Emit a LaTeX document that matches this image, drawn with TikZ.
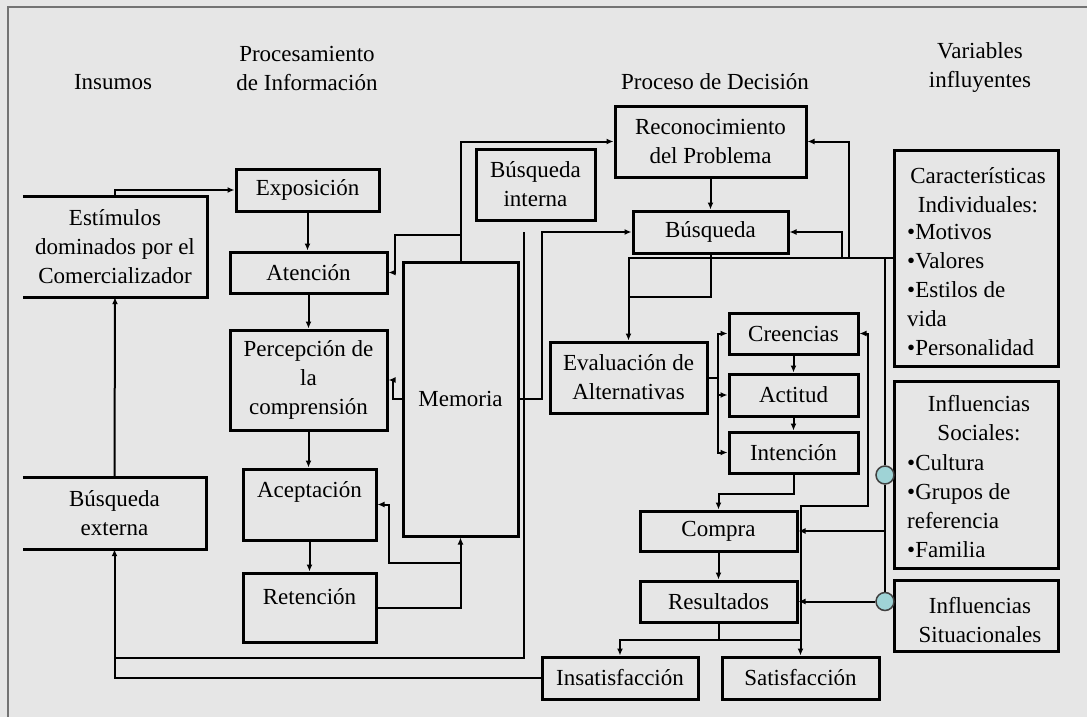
\documentclass[tikz,border=0pt]{standalone}
\usepackage{fontspec}
\setmainfont{Liberation Serif}
\usetikzlibrary{arrows.meta}
\definecolor{bg}{HTML}{E6E6E6}
\definecolor{circfill}{HTML}{9FD3D6}
\begin{document}
\begin{tikzpicture}[x=1pt,y=-1pt,
  font=\fontsize{23pt}{29pt}\selectfont,
  box/.style={draw=black, line width=3pt, inner sep=0pt, align=center},
  openbox/.style={inner sep=0pt, align=center},
  lbl/.style={inner sep=0pt, align=center},
  conn/.style={line width=2pt, line join=miter},
  arr/.style={conn, -{Latex[length=7pt,width=6pt]}},
  circ/.style={circle, draw=black!75, line width=1.5pt, fill=circfill, minimum size=18pt, inner sep=0pt}]

\fill[bg] (0,0) rectangle (1087,717);
\useasboundingbox (0,0) rectangle (1087,717);
\draw[black!55, line width=1.2pt] (8,717) -- (8,7) -- (1087,7);

% headers
\node[lbl] (hIns) at (113,82) {Insumos};
\node[lbl] (hProc) at (307,68) {Procesamiento\\de Información};
\node[lbl] (hDec) at (715,82) {Proceso de Decisión};
\node[lbl] (hVar) at (980,68) {Variables\\influyentes};

% left column
\node[openbox, minimum width=184pt, minimum height=100pt] (estim) at (115,247) {Estímulos\\dominados por el\\Comercializador};
\draw[line width=3pt] (estim.north west) -- (estim.north east) -- (estim.south east) -- (estim.south west);
\node[openbox, minimum width=183pt, minimum height=71pt] (bext) at (114.5,513.5) {Búsqueda\\externa};
\draw[line width=3pt] (bext.north west) -- (bext.north east) -- (bext.south east) -- (bext.south west);

% information processing
\node[box, minimum width=143pt, minimum height=42pt] (expo) at (307.5,190) {Exposición};
\node[box, minimum width=157pt, minimum height=41pt] (aten) at (308.5,272.5) {Atención};
\node[box, minimum width=157pt, minimum height=100pt] (perc) at (308.5,380) {Percepción de\\la\\comprensión};
\node[box, minimum width=133pt, minimum height=71pt] (acep) at (309.5,504.5) {};
\node[lbl] (acepL) at (309.5,492) {Aceptación};
\node[box, minimum width=133pt, minimum height=69pt] (ret) at (309.5,607.5) {};
\node[lbl] (retL) at (309.5,597) {Retención};
\node[box, minimum width=115pt, minimum height=274pt] (mem) at (460.5,399) {Memoria};

% decision process
\node[box, minimum width=119pt, minimum height=71pt] (bint) at (535.5,184.5) {Búsqueda\\interna};
\node[box, minimum width=191pt, minimum height=71pt] (recon) at (710.5,141.5) {Reconocimiento\\del Problema};
\node[box, minimum width=155pt, minimum height=42pt] (busq) at (710.5,232) {Búsqueda};
\node[box, minimum width=157pt, minimum height=71pt] (eval) at (628.5,377.5) {Evaluación de\\Alternativas};
\node[box, minimum width=129pt, minimum height=41pt] (crees) at (793.5,333.5) {Creencias};
\node[box, minimum width=129pt, minimum height=42pt] (act) at (793.5,395) {Actitud};
\node[box, minimum width=129pt, minimum height=41pt] (int) at (793.5,452.5) {Intención};
\node[box, minimum width=157pt, minimum height=40pt] (compra) at (718.5,531) {Compra};
\node[box, minimum width=157pt, minimum height=41pt] (res) at (718.5,601.5) {Resultados};
\node[box, minimum width=156pt, minimum height=42pt] (insat) at (620,678) {Insatisfacción};
\node[box, minimum width=157pt, minimum height=42pt] (satis) at (800.5,678) {Satisfacción};

% influencing variables
\node[box, minimum width=164pt, minimum height=216pt] (char) at (976,258) {};
\node[lbl] (charH) at (978,190) {Características\\Individuales:};
\node[lbl, align=left, anchor=west] (charL) at (907,290) {•Motivos\\•Valores\\•Estilos de\\vida\\•Personalidad};
\node[box, minimum width=164pt, minimum height=187pt] (soc) at (976,474.5) {};
\node[lbl] (socH) at (979,418) {Influencias\\Sociales:};
\node[lbl, align=left, anchor=west] (socL) at (907,506) {•Cultura\\•Grupos de\\referencia\\•Familia};
\node[box, minimum width=164pt, minimum height=71pt] (sit) at (976,615.5) {};
\node[lbl] (sitL) at (980,620) {Influencias\\Situacionales};

% connectors: left / information processing
\draw[arr] (estim.north) |- (expo.west);
\draw[arr] (bext.north) -- (estim.south);
\draw[arr] (expo.south) -- (expo.south |- aten.north);
\draw[arr] (aten.south) -- (aten.south |- perc.north);
\draw[arr] (perc.south) -- (perc.south |- acep.north);
\draw[arr] (acep.south) -- (acep.south |- ret.north);
\draw[arr] (ret.east) -| (mem.south);
\draw[arr] (mem.south |- 0,563) -- (388.5,563) |- (acep.east);
\draw[arr] (mem.north) |- (recon.west);
\draw[arr] (mem.north |- 0,235) -- (395,235) |- (aten.east);
\draw[arr] (mem.west) -- (393,399) |- (perc.east);
\draw[arr] (mem.east) -- (542,399) |- (busq.west);
\draw[arr] (524,232) -- (524,658) -| (bext.south);
\draw[conn] (insat.west) -| (bext.south |- 0,658);

% connectors: decision process
\draw[arr] (recon.south) -- (busq.north);
\draw[conn] (busq.south) |- (eval.north |- 0,297);
\draw[arr] (char.west) -| (eval.north);
\draw[arr] (849,258) |- (recon.east);
\draw[arr] (842,258) |- (busq.east);
\coordinate (ej) at (718,377.5);
\draw[conn] (eval.east) -- (ej);
\draw[arr] (ej) |- (crees.west);
\draw[arr] (ej) |- (act.west);
\draw[arr] (ej) |- (int.west);
\draw[arr] (crees.south) -- (act.north);
\draw[arr] (act.south) -- (int.north);
\draw[arr] (int.south) -- ++(0,19) -| (compra.north);
\draw[arr] (compra.south) -- (res.north);
\draw[conn] (res.south) -- (res.south |- 0,640) coordinate (rj);
\draw[arr] (rj) -| (insat.north);
\draw[arr] (rj) -| (satis.north);
\draw[arr] (satis.north |- 0,640) |- (868,506) |- (crees.east);

% influence bus with circles
\node[circ] (c1) at (885,475) {};
\node[circ] (c2) at (885,601.5) {};
\draw[conn] (c1.north |- 0,258) -- (c1.north);
\draw[conn] (c1.south) -- (c2.north);
\draw[arr] (c1 |- compra.east) -- (compra.east);
\draw[arr] (c2) -- (res.east);
\end{tikzpicture}
\end{document}
